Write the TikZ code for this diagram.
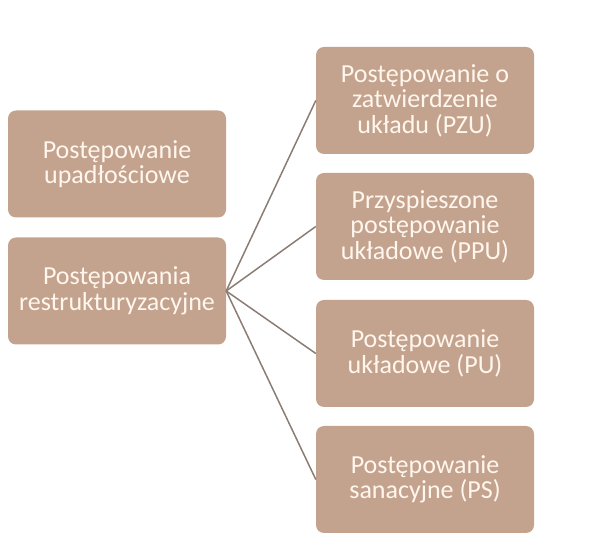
\documentclass[tikz,border=0pt]{standalone}
\usepackage{fontspec}
\setmainfont{Carlito}
\definecolor{boxc}{HTML}{C4A38E}
\definecolor{linec}{HTML}{8C7D74}
\definecolor{txtc}{HTML}{FFF6EE}
\begin{document}
\begin{tikzpicture}[x=1pt,y=1pt]
  \tikzset{ b/.style={rectangle,rounded corners=8pt,fill=boxc,text=txtc,align=center,
      minimum width=218pt,minimum height=107pt,inner sep=0pt,
      font=\fontsize{26}{25.5}\selectfont},
  }
  \useasboundingbox (0,0) rectangle (604,556);
  \node[b] (pu)  at (117, 392)   {Postępowanie\\upadłościowe};
  \node[b] (pr)  at (117, 265)   {Postępowania\\restrukturyzacyjne};
  \node[b] (pzu) at (425, 455.5) {Postępowanie o\\zatwierdzenie\\układu (PZU)};
  \node[b] (ppu) at (425, 329.5) {Przyspieszone\\postępowanie\\układowe (PPU)};
  \node[b] (puk) at (425, 202.5) {Postępowanie\\układowe (PU)};
  \node[b] (ps)  at (425, 76.5)  {Postępowanie\\sanacyjne (PS)};

  % the connection between the boxes
  \draw[-,linec,line width=1.5pt] (pr.east) -- (pzu.west);
  \draw[-,linec,line width=1.5pt] (pr.east) -- (ppu.west);
  \draw[-,linec,line width=1.5pt] (pr.east) -- (puk.west);
  \draw[-,linec,line width=1.5pt] (pr.east) -- (ps.west);
\end{tikzpicture}
\end{document}
